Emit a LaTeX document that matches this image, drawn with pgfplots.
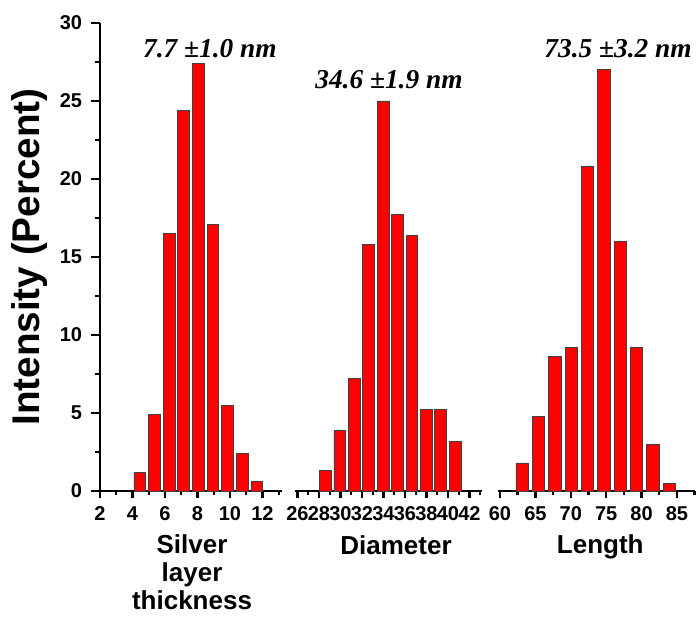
\documentclass[border=0pt]{standalone}
\usepackage{pgfplots}
\pgfplotsset{compat=1.18}
\usepackage{fontspec}
\setmainfont{Liberation Sans}
\newfontfamily\annfont{Liberation Serif}

\pgfplotsset{
  thicktick/.style={
    tick style={black, line width=1.8pt},
    every tick/.append style={black, line width=1.8pt},
    every major tick/.append style={black, line width=1.8pt},
    every minor tick/.append style={black, line width=1.8pt},
  },
  histo/.style={
    scale only axis,
    height=351pt,
    ymin=0, ymax=30,
    axis x line=bottom,
    axis y line=none,
    ytick=\empty,
    x axis line style={-, line width=2pt},
    tick align=outside,
    major tick length=5.25pt,
    minor tick length=3pt,
    thicktick,
    xticklabel style={font=\bfseries\fontsize{15}{15}\selectfont, inner sep=0pt, yshift=-6pt},
    /pgf/number format/assume math mode=true,
    xlabel style={font=\bfseries\fontsize{19.5}{21}\selectfont, align=center, yshift=-7.5pt},
    ybar,
    clip=false,
  },
  histbar/.style={fill=red, draw=black!75, line width=0.6pt},
}
\tikzset{
  note/.style={font=\annfont\bfseries\itshape\fontsize{20.5}{20.5}\selectfont, anchor=base},
}

\begin{document}
\begin{tikzpicture}
\path[use as bounding box] (0,0) rectangle (522.75pt,465.75pt);

% shared intensity axis
\begin{axis}[
  at={(75pt,97.5pt)}, anchor=south west,
  scale only axis, width=20pt, height=351pt,
  xmin=0, xmax=1, ymin=0, ymax=30,
  axis y line=left, axis x line=none, xtick=\empty,
  y axis line style={-, line width=2pt},
  ytick={0,5,...,30}, minor ytick={2.5,7.5,...,27.5},
  tick align=outside, major tick length=6.75pt, minor tick length=3.5pt,
  thicktick,
  yticklabel style={font=\bfseries\fontsize{15}{15}\selectfont, inner sep=0pt, xshift=-6.5pt},
  /pgf/number format/assume math mode=true,
  ylabel={Intensity (Percent)},
  ylabel style={font=\bfseries\fontsize{29}{29}\selectfont, yshift=6pt},
]
\end{axis}

% silver layer thickness
\begin{axis}[histo,
  at={(69.75pt,97.5pt)}, anchor=south west,
  width=141.75pt, xmin=1.57, xmax=13.2,
  xtick={2,4,...,12}, minor xtick={3,5,...,13},
  bar width=0.72,
  xlabel={Silver\\layer\\thickness},
  xlabel style={xshift=3.4pt},
]
\addplot[histbar] coordinates {
  (4.45,1.2) (5.35,4.9) (6.25,16.5) (7.15,24.4) (8.05,27.4)
  (8.95,17.1) (9.85,5.5) (10.75,2.4) (11.65,0.6)
};
\node[note] at (axis cs:8.76,27.76) {7.7 {\upshape ±}1.0 nm};
\end{axis}

% diameter
\begin{axis}[histo,
  at={(221.25pt,97.5pt)}, anchor=south west,
  width=140.55pt, xmin=25.77, xmax=43.2,
  xtick={26,28,...,42}, minor xtick={27,29,...,43},
  bar width=1.09,
  xlabel={Diameter},
  xlabel style={xshift=5.5pt},
]
\addplot[histbar] coordinates {
  (28.60,1.3) (29.94,3.9) (31.28,7.2) (32.62,15.8) (33.96,25.0)
  (35.30,17.7) (36.64,16.4) (37.98,5.2) (39.32,5.2) (40.66,3.2)
};
\node[note] at (axis cs:34.51,25.77) {34.6 {\upshape ±}1.9 nm};
\end{axis}

% length
\begin{axis}[histo,
  at={(373.4pt,97.5pt)}, anchor=south west,
  width=147.6pt, xmin=59.7, xmax=87.5,
  xtick={60,65,...,85}, minor xtick={62.5,67.5,...,87.5},
  bar width=1.74,
  xlabel={Length},
  xlabel style={xshift=3pt},
]
\addplot[histbar] coordinates {
  (63.13,1.8) (65.44,4.8) (67.75,8.6) (70.06,9.2) (72.37,20.8)
  (74.68,27.0) (76.99,16.0) (79.30,9.2) (81.61,3.0) (83.92,0.5)
};
\node[note] at (axis cs:76.67,27.82) {73.5 {\upshape ±}3.2 nm};
\end{axis}
\end{tikzpicture}
\end{document}
